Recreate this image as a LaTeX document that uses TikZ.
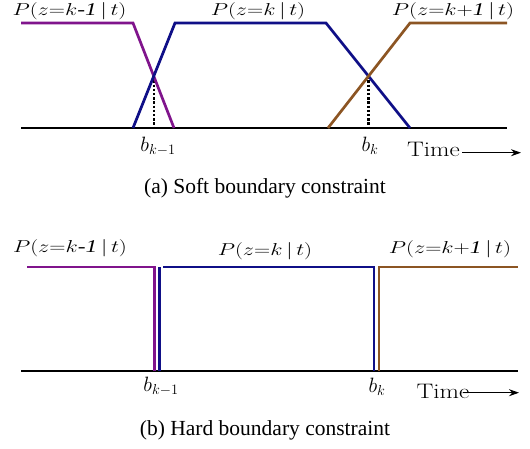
\documentclass[tikz,border=0pt]{standalone}
\usepackage{fontspec}
\setmainfont{Liberation Serif}
\newfontfamily\cmfont{Latin Modern Roman}
\usetikzlibrary{arrows.meta}
\definecolor{cpurple}{RGB}{128,20,140}
\definecolor{cblue}{RGB}{15,15,135}
\definecolor{cbrown}{RGB}{140,85,35}
\tikzset{
  curve/.style={line width=2.7pt, line join=miter},
  curveb/.style={line width=2.2pt, line join=miter},
  axisline/.style={line width=2.7pt, black},
  axislineb/.style={line width=2.3pt, black},
  guide/.style={line width=2.2pt, black, dash pattern=on 2.4pt off 1.8pt},
  plabel/.style={font=\fontsize{18}{18}\selectfont, inner sep=0pt, xscale=1.3},
  blabel/.style={font=\fontsize{20}{20}\selectfont, inner sep=0pt},
  tlabel/.style={font=\cmfont\fontsize{21}{21}\selectfont, inner sep=0pt, xscale=1.2},
  caption/.style={font=\fontsize{21.5}{21.5}\selectfont, inner sep=0pt},
  timearrow/.style={line width=1pt, -{Stealth[length=10pt,width=7pt]}},
}
\begin{document}
\begin{tikzpicture}[x=1pt,y=-1pt]
\useasboundingbox (0,0) rectangle (530,448);
% ---------- top panel ----------
\coordinate (a1) at (21,23);
\coordinate (a2) at (133,23);
\coordinate (a3) at (174,128);
\coordinate (b1) at (133,128);
\coordinate (b2) at (175,23);
\coordinate (b3) at (326,23);
\coordinate (b4) at (410,128);
\coordinate (c1) at (328,128);
\coordinate (c2) at (410,23);
\coordinate (c3) at (507,23);
\coordinate (l1) at (21,128);
\coordinate (l2) at (507,128);
\coordinate (x1) at (intersection of a2--a3 and b1--b2);
\coordinate (x2) at (intersection of b3--b4 and c1--c2);
\draw[axisline] (l1) -- (l2);
\draw[guide] (x1) -- (x1 |- l1);
\draw[guide] (x2) -- (x2 |- l1);
\draw[curve, cpurple] (a1) -- (a2) -- (a3);
\draw[curve, cblue] (b1) -- (b2) -- (b3) -- (b4);
\draw[curve, cbrown] (c1) -- (c2) -- (c3);
\node[plabel] (pa1) at (69.5,11) {$P(z{=}k\mbox{-}\mathit{1}\,|\,t)$};
\node[plabel] (pa2) at (258,11) {$P(z{=}k\,|\,t)$};
\node[plabel] (pa3) at (453,11.3) {$P(z{=}k{+}\mathit{1}\,|\,t)$};
\node[blabel, anchor=base] (ba1) at (158,151) {$b_{k-1}$};
\node[blabel, anchor=base] (ba2) at (370,151.5) {$b_k$};
\node[tlabel] (ta) at (433.5,149.3) {Time};
\coordinate (ta1) at (462,152.7);
\coordinate (ta2) at (521,152.7);
\draw[timearrow] (ta1) -- (ta2);
\node[caption] (capa) at (265,188) {(a) Soft boundary constraint};
% ---------- bottom panel ----------
\coordinate (m1) at (21,371);
\coordinate (m2) at (518,371);
\draw[axislineb] (m1) -- (m2);
\node[blabel, fill=white, anchor=north, minimum width=53pt, text height=19.5pt, text depth=5pt] (bb1) at (161,371.6) {$b_{k-1}$};
\coordinate (p1) at (27,267);
\coordinate (p2) at (154.5,267);
\coordinate (p3) at (154.5,371);
\coordinate (q0) at (159.5,371);
\coordinate (q1) at (159.5,267);
\coordinate (q2) at (163,267);
\coordinate (q3) at (374,267);
\coordinate (q4) at (374,371);
\coordinate (r1) at (379,371);
\coordinate (r2) at (379,267);
\coordinate (r3) at (518,267);
\draw[curveb, cpurple] (p1) -- (p2) -- (p3);
\draw[curveb, cblue] (q0) -- (q1);
\draw[curveb, cblue] (q2) -- (q3) -- (q4);
\draw[curveb, cbrown] (r1) -- (r2) -- (r3);
\node[plabel] (pb1) at (70,248) {$P(z{=}k\mbox{-}\mathit{1}\,|\,t)$};
\node[plabel] (pb2) at (265,251) {$P(z{=}k\,|\,t)$};
\node[plabel] (pb3) at (450,249) {$P(z{=}k{+}\mathit{1}\,|\,t)$};
\node[blabel, anchor=base] (bb2) at (377,392.5) {$b_k$};
\node[tlabel] (tb) at (443,391.5) {Time};
\coordinate (tb1) at (463,392.7);
\coordinate (tb2) at (519,392.7);
\draw[timearrow] (tb1) -- (tb2);
\node[caption] (capb) at (265,430) {(b) Hard boundary constraint};
\end{tikzpicture}
\end{document}
